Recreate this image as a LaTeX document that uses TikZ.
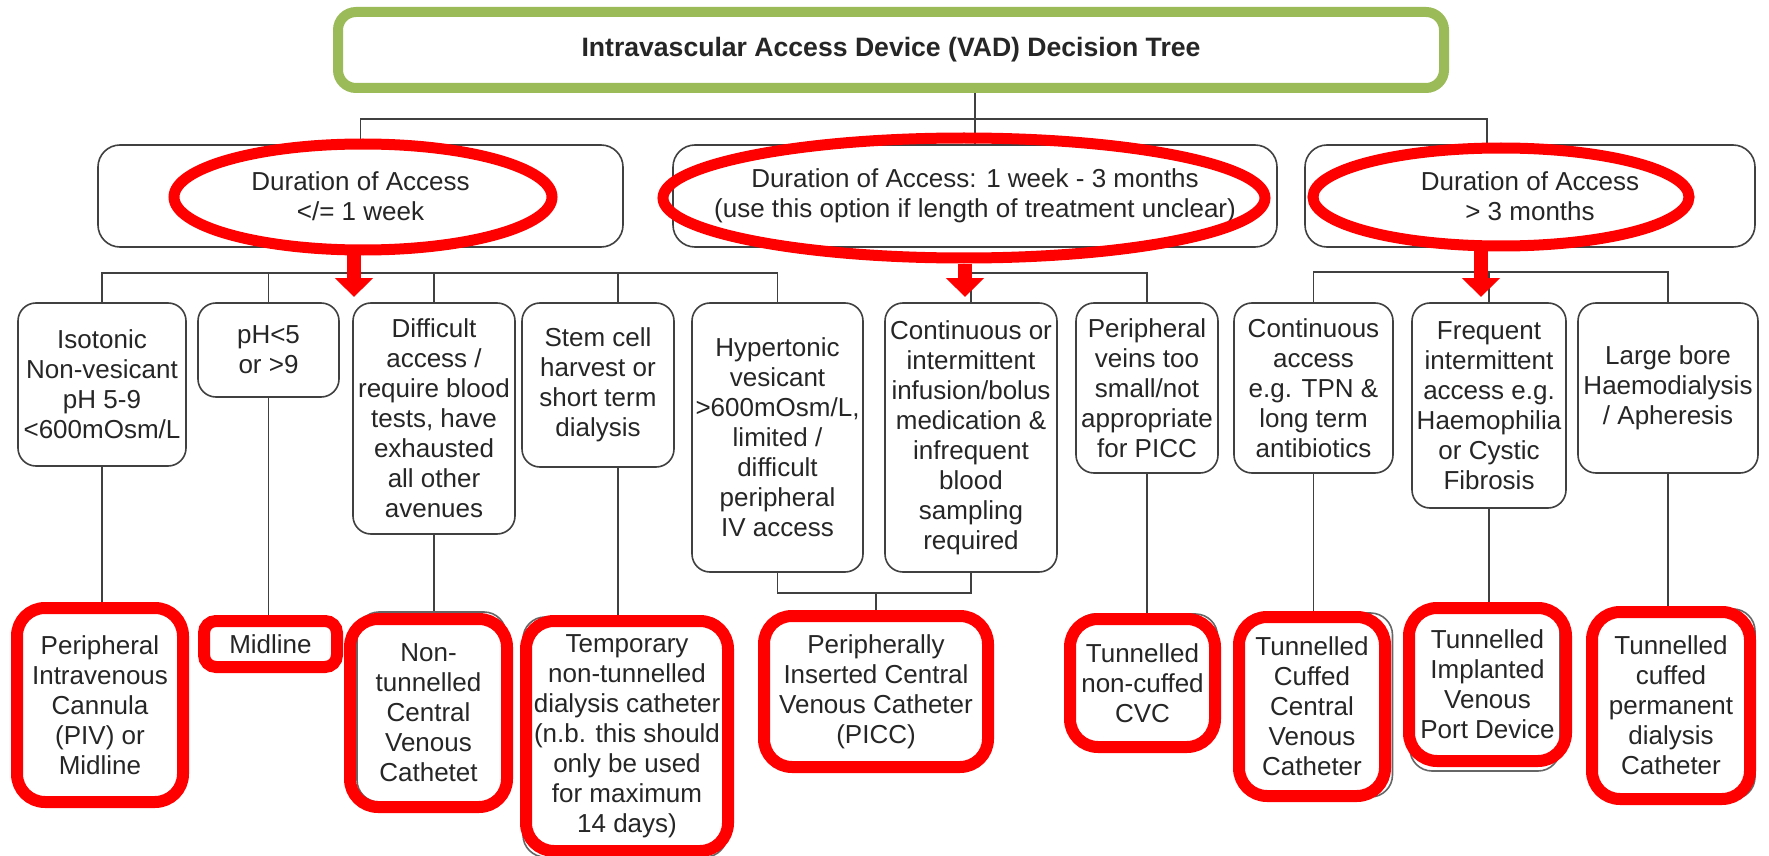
\documentclass[tikz,border=0pt]{standalone}
\usepackage{fontspec}
\setmainfont{Liberation Sans}
\usetikzlibrary{shapes.geometric,arrows.meta}
\pgfdeclarelayer{bg}
\pgfsetlayers{bg,main}
\definecolor{vadgreen}{HTML}{9BBB59}
\definecolor{vadred}{HTML}{FF0000}
\definecolor{edge}{HTML}{404040}
\begin{document}
\begin{tikzpicture}[x=0.5pt,y=-0.5pt,
  txt/.style={font=\fontsize{13}{15}\selectfont, text=black!85, align=center, inner sep=0pt},
  box/.style={txt, draw=edge, fill=white, line width=0.8pt, rounded corners=9pt},
  dur/.style={box, rounded corners=11pt},
  under/.style={draw=edge!80, fill=white, line width=0.8pt, rounded corners=11pt, inner sep=0pt},
  pick/.style={txt, draw=vadred, line width=6pt, rounded corners=14pt},
  conn/.style={draw=edge, line width=0.8pt},
  ring/.style={ellipse, draw=vadred, line width=5.5pt, inner sep=0pt},
  redarrow/.style={draw=vadred, line width=7pt, -{Triangle[width=18.5pt,length=9.5pt]}},
]
\useasboundingbox (0,0) rectangle (1769,856);

% title
\node[txt, draw=vadgreen, fill=white, line width=5pt, rounded corners=9pt,
      minimum width=553pt, minimum height=38pt,
      font=\bfseries\fontsize{13.3}{15}\selectfont] (title) at (891,50)
  {Intravascular Access Device (VAD) Decision Tree};

% duration of access
\node[dur, minimum width=262.5pt, minimum height=51pt] (dA) at (360.5,196) {Duration of Access\\</= 1 week};
\node[dur, minimum width=302pt, minimum height=51pt] (dB) at (975,196) {Duration of Access: 1 week - 3 months\\(use this option if length of treatment unclear)};
\node[dur, minimum width=225pt, minimum height=51pt] (dC) at (1530,196) {Duration of Access\\> 3 months};

% indications
\node[box, minimum width=84pt, minimum height=81.5pt] (b1) at (102,384.5) {Isotonic\\Non-vesicant\\pH 5-9\\<600mOsm/L};
\node[box, minimum width=70.5pt, minimum height=47pt] (b2) at (268.5,350) {pH<5\\or >9};
\node[box, minimum width=81pt, minimum height=115.5pt] (b3) at (434,418.5) {Difficult\\access /\\require blood\\tests, have\\exhausted\\all other\\avenues};
\node[box, minimum width=76pt, minimum height=82pt] (b4) at (598,385) {Stem cell\\harvest or\\short term\\dialysis};
\node[box, minimum width=85.5pt, minimum height=134.5pt] (b5) at (777.5,437.5) {Hypertonic\\vesicant\\>600mOsm/L,\\limited /\\difficult\\peripheral\\IV access};
\node[box, minimum width=86pt, minimum height=134.5pt] (b6) at (971,437.5) {Continuous or\\intermittent\\infusion/bolus\\medication \&\\infrequent\\blood\\sampling\\required};
\node[box, minimum width=71pt, minimum height=85pt] (b7) at (1147,388) {Peripheral\\veins too\\small/not\\appropriate\\for PICC};
\node[box, minimum width=79.5pt, minimum height=85pt] (b8) at (1313.5,388) {Continuous\\access\\e.g. TPN \&\\long term\\antibiotics};
\node[box, minimum width=77pt, minimum height=102.5pt] (b9) at (1489,405.5) {Frequent\\intermittent\\access e.g.\\Haemophilia\\or Cystic\\Fibrosis};
\node[box, minimum width=90pt, minimum height=85pt] (b10) at (1668,388) {Large bore\\Haemodialysis\\/ Apheresis};

% device boxes, original outlines
\node[under, minimum width=74.5pt, minimum height=95pt] (g3) at (431.5,707) {};
\node[under, minimum width=102pt, minimum height=120pt] (g4) at (625,737) {};
\node[under, minimum width=72pt, minimum height=64pt] (g6) at (1145.5,678) {};
\node[under, minimum width=76pt, minimum height=92pt] (g7) at (1316.5,705) {};
\node[under, minimum width=75pt, minimum height=82pt] (g8) at (1485,689) {};
\node[under, minimum width=81pt, minimum height=95pt] (g9) at (1674,704) {};

% devices, ringed in red
\node[pick, minimum width=83pt, minimum height=97pt] (r1) at (100,705) {Peripheral\\Intravenous\\Cannula\\(PIV) or\\Midline};
\node[pick, rounded corners=6pt, minimum width=66.5pt, minimum height=23pt] (r2) at (270.5,644) {Midline};
\node[pick, minimum width=78.5pt, minimum height=94pt] (r3) at (428.5,713) {Non-\\tunnelled\\Central\\Venous\\Cathetet};
\node[pick, minimum width=101pt, minimum height=115pt] (r4) at (627,736) {Temporary\\non-tunnelled\\dialysis catheter\\(n.b. this should\\only be used\\for maximum\\14 days)};
\node[pick, minimum width=112pt, minimum height=75.5pt] (r5) at (876,691.5) {Peripherally\\Inserted Central\\Venous Catheter\\(PICC)};
\node[pick, minimum width=72.5pt, minimum height=64pt] (r6) at (1142.5,683) {Tunnelled\\non-cuffed\\CVC};
\node[pick, minimum width=73pt, minimum height=89.5pt] (r7) at (1312,706.5) {Tunnelled\\Cuffed\\Central\\Venous\\Catheter};
\node[pick, minimum width=78.5pt, minimum height=76.5pt] (r8) at (1487.5,684.5) {Tunnelled\\Implanted\\Venous\\Port Device};
\node[pick, minimum width=79pt, minimum height=93.5pt] (r9) at (1671,705.5) {Tunnelled\\cuffed\\permanent\\dialysis\\Catheter};

% connectors
\coordinate (hTop) at (1487,119);
\coordinate (hA) at (0,273);
\coordinate (hB) at (0,273);
\coordinate (hC) at (0,272);
\coordinate (hP) at (0,593);
\begin{pgfonlayer}{bg}
  \fill[white] (0,0) rectangle (1769,856);
  \draw[conn] (title.south -| dB.north) -- (dB.north);
  \draw[conn] (dA.north) |- (hTop) -- (hTop |- dC.north);
  % first group
  \draw[conn] (b1.north) |- (b5.north |- hA) -- (b5.north);
  \draw[conn] (b2.north) -- (b2.north |- hA);
  \draw[conn] (b3.north) -- (b3.north |- hA);
  \draw[conn] ([xshift=10pt]b4.north) -- ([xshift=10pt]b4.north |- hA);
  % second group
  \draw[conn] (b6.north) |- (b7.north |- hB) -- (b7.north);
  % third group
  \draw[conn] (b8.north) |- (b10.north |- hC) -- (b10.north);
  \draw[conn] (b9.north) -- (b9.north |- hC);
  % down to devices
  \draw[conn] (b1.south) -- (b1.south |- r1.north);
  \draw[conn] (b2.south) -- (b2.south |- r2.north);
  \draw[conn] (b3.south) -- (b3.south |- r3.north);
  \draw[conn] ([xshift=10pt]b4.south) -- ([xshift=10pt]b4.south |- r4.north);
  \draw[conn] (b5.south) |- (b6.south |- hP) -- (b6.south);
  \draw[conn] (r5.north) -- (r5.north |- hP);
  \draw[conn] (b7.south) -- (b7.south |- r6.north);
  \draw[conn] (b8.south) -- (b8.south |- r7.north);
  \draw[conn] (b9.south) -- (b9.south |- r8.north);
  \draw[conn] (b10.south) -- (b10.south |- r9.north);
\end{pgfonlayer}

% red rings and arrows
\node[ring, minimum width=189pt, minimum height=53pt] (eA) at (363,197) {};
\node[ring, minimum width=301pt, minimum height=60pt] (eB) at (964,198) {};
\node[ring, minimum width=188pt, minimum height=49pt] (eC) at (1501,197) {};
\coordinate (tA) at (354,297);
\coordinate (tB) at (965,297);
\coordinate (tC) at (1481,297);
\draw[redarrow] (tA |- eA.south) -- (tA);
\draw[redarrow] (tB |- eB.south) -- (tB);
\draw[redarrow] (tC |- eC.south) -- (tC);
\end{tikzpicture}
\end{document}
